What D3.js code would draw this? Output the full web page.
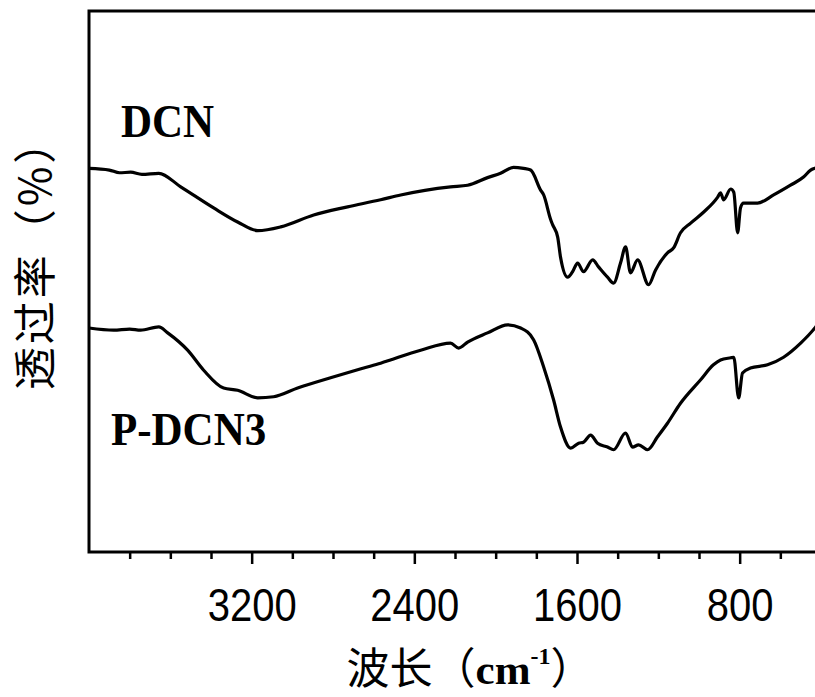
<!DOCTYPE html>
<html>
<head>
<meta charset="utf-8">
<script src="https://cdn.jsdelivr.net/npm/d3@7"></script>
<style>
  body { margin: 0; background: #fff; }
  svg { display: block; }
</style>
</head>
<body>
<svg id="chart"></svg>
<script>
// wavenumbers (cm-1) and transmittance (a.u.)
var dcnWave = [4000, 3900, 3850, 3795, 3740, 3657, 3549, 3387, 3269, 3170, 3057, 2895, 2728, 2566, 2467,
  2222, 2138, 2040, 1976, 1912, 1863, 1828, 1779, 1764, 1730, 1720, 1695, 1681, 1646, 1622, 1597, 1568,
  1523, 1494, 1450, 1420, 1386, 1361, 1337, 1302, 1248, 1214, 1155, 1125, 1091, 1041, 978, 908, 894,
  879, 844, 829, 810, 796, 781, 712, 633, 550, 486, 451, 426, 400];
var dcnT = [70.9, 70.6, 70.1, 70.2, 69.8, 70.0, 67.5, 63.6, 61.0, 59.4, 60.1, 62.3, 63.8, 65.1, 66.0,
  67.5, 67.8, 69.2, 70.0, 71.1, 70.9, 70.6, 66.9, 66.0, 61.5, 60.5, 58.2, 54.5, 50.8, 51.8, 53.4, 51.8,
  54.0, 52.7, 50.8, 49.7, 53.4, 56.4, 51.6, 54.0, 49.4, 52.1, 55.3, 56.2, 59.0, 60.8, 62.8, 65.6, 66.4,
  65.1, 67.1, 66.5, 59.0, 63.6, 64.5, 64.5, 66.0, 67.8, 69.3, 70.6, 71.0, 71.4];

var pdcnWave = [4000, 3879, 3800, 3746, 3657, 3613, 3515, 3436, 3338, 3269, 3170, 3092, 2974, 2812, 2649,
  2566, 2369, 2222, 2182, 2138, 2040, 1941, 1877, 1813, 1764, 1715, 1681, 1631, 1592, 1568, 1533, 1499,
  1450, 1420, 1361, 1327, 1297, 1253, 1204, 1155, 1091, 993, 929, 894, 844, 829, 805, 786, 747, 663,
  584, 500, 426, 400];
var pdcnT = [41.4, 41.0, 41.2, 41.0, 41.6, 40.5, 37.3, 33.6, 30.3, 29.9, 28.5, 28.7, 30.3, 32.2, 34.0,
  34.9, 37.3, 38.6, 37.7, 38.8, 40.5, 42.0, 41.4, 39.2, 34.2, 28.1, 23.1, 19.2, 20.1, 20.3, 21.6, 20.1,
  19.4, 18.9, 22.0, 19.4, 19.8, 18.9, 21.3, 23.8, 27.5, 31.8, 34.6, 35.5, 35.9, 36.0, 28.5, 33.1, 34.0,
  34.6, 36.0, 38.6, 41.6, 42.9];

var seriesNames = ["DCN", "P-DCN3"];
var majorTicks = [3200, 2400, 1600, 800];
var minorTicks = [3800, 3600, 3400, 3000, 2800, 2600, 2200, 2000, 1800, 1400, 1200, 1000, 600];

var dims = { width: 815, height: 697, left: 89, top: 11, plotRight: 821, bottom: 552 };

var svg = d3.select("#chart")
  .attr("width", dims.width)
  .attr("height", dims.height);

var xScale = d3.scaleLinear().domain([4000, 400]).range([dims.left, dims.plotRight]);
var yScale = d3.scaleLinear().domain([0, 100]).range([dims.bottom, dims.top]);

function toPoints(w, t) {
  return w.map(function(d, i) { return { w: d, t: t[i] }; });
}
var series = [toPoints(dcnWave, dcnT), toPoints(pdcnWave, pdcnT)];

var line = d3.line()
  .x(function(d) { return xScale(d.w); })
  .y(function(d) { return yScale(d.t); })
  .curve(d3.curveMonotoneX);

svg.selectAll("path.spectrum")
  .data(series)
  .enter()
  .append("path")
  .attr("class", "spectrum")
  .attr("d", line)
  .attr("fill", "none")
  .attr("stroke", "#000")
  .attr("stroke-width", 3.2)
  .attr("stroke-linejoin", "round");

// minor ticks
svg.append("g")
  .attr("transform", "translate(0," + dims.bottom + ")")
  .call(d3.axisBottom(xScale).tickValues(minorTicks).tickSize(7).tickSizeOuter(0).tickFormat(""))
  .call(function(g) { g.select(".domain").remove(); })
  .selectAll("line").attr("stroke-width", 2.5);

// major ticks with labels (glyphs a bit taller than wide, like the source)
var xAxis = svg.append("g")
  .attr("transform", "translate(0," + dims.bottom + ")")
  .call(d3.axisBottom(xScale).tickValues(majorTicks).tickSize(12).tickSizeOuter(0).tickFormat(d3.format("d")));
xAxis.select(".domain").remove();
xAxis.selectAll("line").attr("stroke-width", 2.5);
xAxis.selectAll("text")
  .attr("y", 0)
  .attr("dy", 0)
  .attr("transform", "translate(0,69) scale(1,1.15)")
  .attr("fill", "#000")
  .style("font-family", "'Liberation Sans', Arial, sans-serif")
  .style("font-size", "40px");

// frame (right side runs off the picture)
svg.append("rect")
  .attr("x", dims.left)
  .attr("y", dims.top)
  .attr("width", dims.plotRight - dims.left)
  .attr("height", dims.bottom - dims.top)
  .attr("fill", "none")
  .attr("stroke", "#000")
  .attr("stroke-width", 3);

// series labels
var labelPos = [[121, 137], [111, 445]];
svg.selectAll("text.series")
  .data(seriesNames)
  .enter()
  .append("text")
  .attr("class", "series")
  .attr("transform", function(d, i) { return "translate(" + labelPos[i][0] + "," + labelPos[i][1] + ") scale(1,1.06)"; })
  .style("font-family", "'Liberation Serif', 'Times New Roman', serif")
  .style("font-weight", "bold")
  .style("font-size", "43px")
  .text(function(d) { return d; });

// x-axis title
var xt = svg.append("text")
  .attr("x", 470)
  .attr("y", 684)
  .attr("text-anchor", "middle")
  .style("font-size", "43px");
xt.append("tspan").style("font-family", "'Noto Sans CJK SC', sans-serif").text("波长（");
xt.append("tspan").style("font-family", "'Liberation Serif', serif").style("font-weight", "bold").text("cm");
xt.append("tspan").style("font-family", "'Liberation Serif', serif").style("font-weight", "bold").style("font-size", "24px")
  .attr("dy", -20).text("-1");
xt.append("tspan").style("font-family", "'Noto Sans CJK SC', sans-serif").attr("dy", 20).text("）");

// y-axis title
svg.append("text")
  .attr("transform", "translate(51,254) rotate(-90)")
  .attr("text-anchor", "middle")
  .style("font-family", "'Noto Sans CJK SC', sans-serif")
  .style("font-size", "43px")
  .style("letter-spacing", "3px")
  .text("透过率（%）");
</script>
</body>
</html>
